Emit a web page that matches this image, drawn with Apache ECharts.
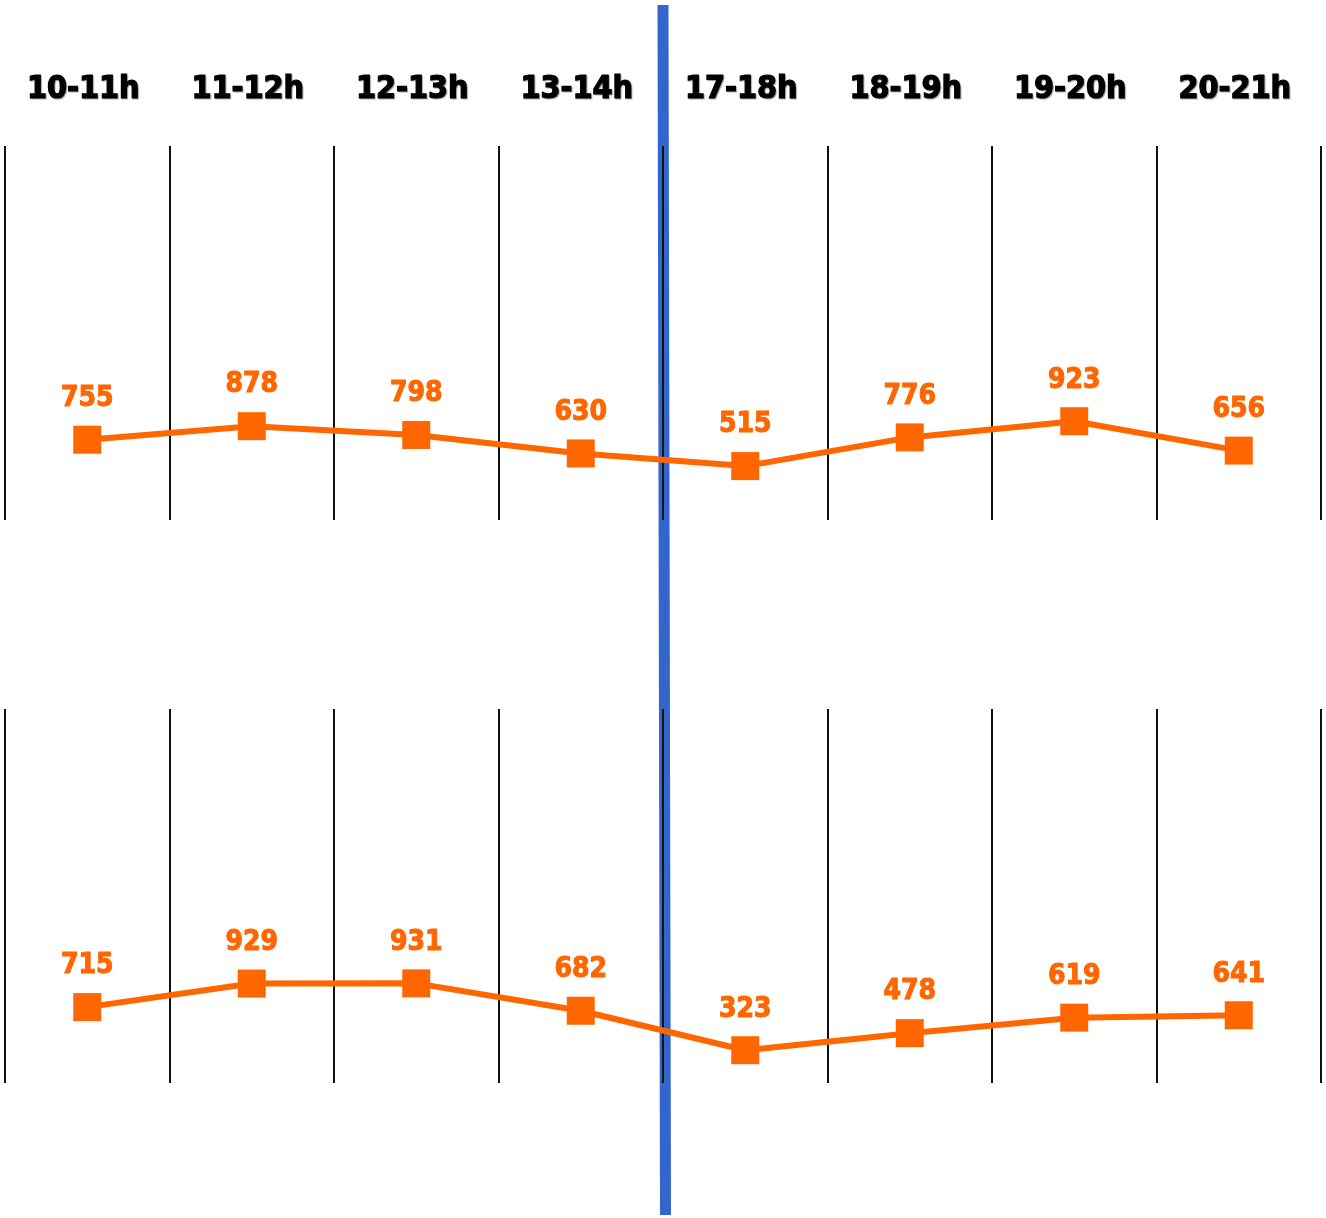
<!DOCTYPE html>
<html>
<head>
<meta charset="utf-8">
<script src="https://cdn.jsdelivr.net/npm/echarts@6/dist/echarts.min.js"></script>
<style>
html,body{margin:0;padding:0;background:#fff;}
#chart{width:1326px;height:1218px;}
</style>
</head>
<body>
<div id="chart"></div>
<script>
var categories = ['10-11h', '11-12h', '12-13h', '13-14h', '17-18h', '18-19h', '19-20h', '20-21h'];
var topValues = [755, 878, 798, 630, 515, 776, 923, 656];
var bottomValues = [715, 929, 931, 682, 323, 478, 619, 641];

var orange = '#ff6600';
var font = '"DejaVu Sans Condensed", "DejaVu Sans", sans-serif';

var chart = echarts.init(document.getElementById('chart'));

function xAxisFor(gridIndex, showLabels) {
  return {
    type: 'category',
    gridIndex: gridIndex,
    data: categories,
    position: 'top',
    boundaryGap: true,
    axisLine: { show: false },
    axisTick: { show: false },
    axisLabel: {
      show: showLabels,
      margin: 40,
      padding: [0, 8, 0, 0],
      color: '#000',
      fontFamily: font,
      fontWeight: 'bold',
      fontSize: 32,
      textBorderColor: '#000',
      textBorderWidth: 1.2,
      textShadowColor: 'rgba(0,0,0,0.3)',
      textShadowBlur: 1,
      textShadowOffsetX: 1,
      textShadowOffsetY: 1
    },
    splitLine: { show: true, lineStyle: { color: '#111', width: 2 } }
  };
}

function yAxisFor(gridIndex) {
  return {
    type: 'value',
    gridIndex: gridIndex,
    min: 25,
    max: 3425,
    show: false,
    splitLine: { show: false }
  };
}

function seriesFor(idx, values) {
  return {
    type: 'line',
    xAxisIndex: idx,
    yAxisIndex: idx,
    data: values,
    symbol: 'rect',
    symbolSize: 28,
    lineStyle: { color: orange, width: 6 },
    itemStyle: { color: orange },
    label: {
      show: true,
      position: 'top',
      distance: 13,
      color: orange,
      fontFamily: font,
      fontWeight: 'bold',
      fontSize: 28,
      textBorderColor: orange,
      textBorderWidth: 1
    },
    z: 5,
    animation: false
  };
}

chart.setOption({
  animation: false,
  backgroundColor: '#fff',
  grid: [
    { left: 5, right: 5, top: 146, height: 374 },
    { left: 5, right: 5, top: 709, height: 374 }
  ],
  xAxis: [xAxisFor(0, true), xAxisFor(1, false)],
  yAxis: [yAxisFor(0), yAxisFor(1)],
  graphic: {
    elements: [{
      type: 'line',
      z: -10,
      shape: { x1: 663, y1: 5, x2: 665.5, y2: 1215 },
      style: { stroke: '#3366cc', lineWidth: 11 }
    }]
  },
  series: [seriesFor(0, topValues), seriesFor(1, bottomValues)]
});
</script>
</body>
</html>
